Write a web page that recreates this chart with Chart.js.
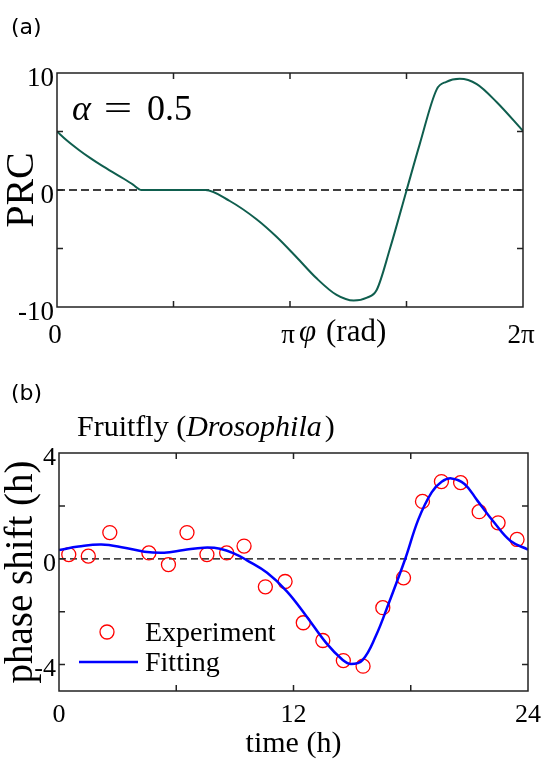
<!DOCTYPE html>
<html>
<head>
<meta charset="utf-8">
<script src="https://cdn.jsdelivr.net/npm/chart.js@4.4.1/dist/chart.umd.min.js"></script>
<style>
    html, body { margin: 0; padding: 0; background: #fff; }
    body { width: 550px; height: 759px; position: relative; overflow: hidden; }
    canvas { position: absolute; left: 0; }
    #prc { top: 0; }
    #fly { top: 380px; }
</style>
</head>
<body>
<canvas id="prc" width="550" height="380"></canvas>
<canvas id="fly" width="550" height="379"></canvas>
<script>
// (a) phase response curve, alpha = 0.5
const prcPhase = [0, 0.13, 0.30, 0.45, 0.60, 0.75, 0.90, 1.02, 1.14, 1.60, 2.00, 2.33, 2.69, 2.96, 3.23, 3.50, 3.77, 4.00, 4.18, 4.31, 4.49, 4.71, 4.89, 5.12, 5.25, 5.43, 5.66, 5.93, 6.283];
const prcValue = [5.0, 4.25, 3.4, 2.72, 2.1, 1.52, 0.96, 0.48, 0, 0, 0, -0.94, -2.5, -4.0, -5.75, -7.55, -8.97, -9.45, -9.2, -8.55, -5.0, -0.1, 3.9, 8.6, 9.25, 9.5, 9.05, 7.5, 5.05];
const phaseTicks = [0, Math.PI / 2, Math.PI, 3 * Math.PI / 2, 2 * Math.PI];
const phaseTickLabels = ["0", "", "π", "", "2π"];
const prcTicks = [-10, -5, 0, 5, 10];
const prcTickLabels = ["-10", "", "0", "", "10"];

// (b) fruitfly data and fit
const expTime = [0.5, 1.5, 2.6, 4.6, 5.6, 6.55, 7.57, 8.58, 9.47, 10.56, 11.57, 12.5, 13.5, 14.55, 15.56, 16.57, 17.63, 18.6, 19.57, 20.55, 21.5, 22.47, 23.44];
const expShift = [0.16, 0.1, 0.99, 0.22, -0.22, 0.99, 0.16, 0.22, 0.48, -1.06, -0.86, -2.42, -3.09, -3.85, -4.06, -1.85, -0.72, 2.17, 2.92, 2.88, 1.78, 1.36, 0.73];
const fitTime = [0, 1.0, 2.17, 3.35, 4.37, 5.38, 6.39, 7.4, 8.24, 9.08, 9.6, 10.65, 11.66, 12.67, 13.68, 14.52, 14.94, 15.53, 16.2, 16.88, 17.72, 18.39, 19.07, 19.58, 20.08, 20.75, 21.42, 22.27, 23.11, 24];
const fitShift = [0.33, 0.46, 0.54, 0.42, 0.27, 0.23, 0.33, 0.42, 0.38, 0.16, -0.05, -0.53, -1.23, -2.18, -3.19, -3.83, -3.98, -3.83, -2.94, -1.67, 0, 1.49, 2.51, 2.91, 3.04, 2.83, 2.19, 1.37, 0.67, 0.35];
const timeTicks = [0, 6, 12, 18, 24];
const timeTickLabels = ["0", "", "12", "", "24"];
const shiftTicks = [-4, -2, 0, 2, 4];
const shiftTickLabels = ["-4", "", "0", "", "4"];

const SERIF = '"Liberation Serif", "DejaVu Serif", serif';

const toPoints = (xs, ys) => xs.map((x, i) => ({ x: x, y: ys[i] }));

// frame + inward tick marks on all four sides
const frameTicks = {
    id: 'frameTicks',
    afterDatasetsDraw(chart) {
        const { ctx, chartArea: a, scales: { x, y } } = chart;
        const len = 6;
        ctx.save();
        ctx.strokeStyle = '#222';
        ctx.lineWidth = 1.5;
        ctx.beginPath();
        x.ticks.forEach(t => {
            const px = x.getPixelForValue(t.value);
            if (px <= a.left + 1 || px >= a.right - 1) return;
            ctx.moveTo(px, a.bottom); ctx.lineTo(px, a.bottom - len);
            ctx.moveTo(px, a.top); ctx.lineTo(px, a.top + len);
        });
        y.ticks.forEach(t => {
            const py = y.getPixelForValue(t.value);
            if (py <= a.top + 1 || py >= a.bottom - 1) return;
            ctx.moveTo(a.left, py); ctx.lineTo(a.left + len, py);
            ctx.moveTo(a.right, py); ctx.lineTo(a.right - len, py);
        });
        ctx.stroke();
        ctx.strokeRect(a.left, a.top, a.width, a.height);
        ctx.restore();
    }
};

function fixedTicks(values) {
    return scale => { scale.ticks = values.map(v => ({ value: v })); };
}

// ---------- panel (a) ----------
const prcText = {
    id: 'prcText',
    afterDraw(chart) {
        const { ctx, chartArea: a, scales: { x } } = chart;
        ctx.save();
        ctx.fillStyle = '#000';
        ctx.textBaseline = 'middle';
        ctx.font = '22px "DejaVu Sans"';
        ctx.fillText('(a)', 11, 28);

        ctx.textBaseline = 'alphabetic';
        const base = a.top + 47;
        ctx.font = 'italic 36px ' + SERIF;
        ctx.fillText('α', a.left + 15, base);
        ctx.font = '36px ' + SERIF;
        ctx.save();
        ctx.translate(a.left + 61, base);
        ctx.scale(1.4, 1);
        ctx.textAlign = 'center';
        ctx.fillText('=', 0, 0);
        ctx.restore();
        ctx.fillText('0.5', a.left + 90, base);

        const px = x.getPixelForValue(Math.PI);
        ctx.font = 'italic 31px ' + SERIF;
        ctx.fillText('φ', px + 9, a.bottom + 34);
        ctx.font = '31px ' + SERIF;
        ctx.fillText('(rad)', px + 36, a.bottom + 34);
        ctx.restore();
    }
};

new Chart(document.getElementById('prc').getContext('2d'), {
    type: 'scatter',
    data: {
        datasets: [{
            data: toPoints(prcPhase, prcValue),
            showLine: true,
            borderColor: '#0f5e4e',
            borderWidth: 2,
            pointRadius: 0,
            cubicInterpolationMode: 'monotone'
        }, {
            data: [{ x: 0, y: 0 }, { x: 2 * Math.PI, y: 0 }],
            showLine: true,
            borderColor: '#000',
            borderWidth: 1.3,
            borderDash: [8, 4],
            pointRadius: 0
        }]
    },
    options: {
        responsive: false,
        animation: false,
        layout: { padding: { top: 73, right: 27, left: 0, bottom: 0 } },
        plugins: { legend: { display: false }, tooltip: { enabled: false } },
        scales: {
            x: {
                type: 'linear',
                min: 0,
                max: 2 * Math.PI,
                afterBuildTicks: fixedTicks(phaseTicks),
                afterFit: s => { s.height = 73; },
                grid: { display: false, drawTicks: false },
                border: { display: false },
                ticks: {
                    autoSkip: false,
                    maxRotation: 0,
                    padding: 13,
                    labelOffset: -2,
                    color: '#000',
                    font: { family: SERIF, size: 27 },
                    callback: (v, i) => phaseTickLabels[i]
                }
            },
            y: {
                min: -10,
                max: 10,
                afterBuildTicks: fixedTicks(prcTicks),
                afterFit: s => { s.width = 57; },
                grid: { display: false, drawTicks: false },
                border: { display: false },
                ticks: {
                    autoSkip: false,
                    padding: 3,
                    labelOffset: 6,
                    color: '#000',
                    font: { family: SERIF, size: 27 },
                    callback: (v, i) => prcTickLabels[i]
                },
                title: {
                    display: true,
                    text: 'PRC',
                    color: '#000',
                    padding: { top: 2, bottom: 0 },
                    font: { family: SERIF, size: 40, lineHeight: 1 }
                }
            }
        }
    },
    plugins: [frameTicks, prcText]
});

// ---------- panel (b) ----------
const flyText = {
    id: 'flyText',
    afterDraw(chart) {
        const { ctx, chartArea: a } = chart;
        ctx.save();
        ctx.fillStyle = '#000';
        ctx.textBaseline = 'middle';
        ctx.font = '22px "DejaVu Sans"';
        ctx.fillText('(b)', 11, 14);

        // title with italic species name
        ctx.textBaseline = 'alphabetic';
        let tx = a.left + 18;
        const ty = a.top - 17;
        const parts = [['Fruitfly (', ''], ['Drosophila', 'italic '], [')', '']];
        parts.forEach(([s, style]) => {
            ctx.font = style + '30px ' + SERIF;
            ctx.fillText(s, tx, ty);
            tx += ctx.measureText(s).width + (style ? 3 : 0);
        });

        // legend
        ctx.strokeStyle = '#ff0000';
        ctx.lineWidth = 1.3;
        ctx.beginPath();
        ctx.arc(a.left + 48, a.bottom - 59, 7, 0, 2 * Math.PI);
        ctx.stroke();
        ctx.strokeStyle = '#0000ff';
        ctx.lineWidth = 2.5;
        ctx.beginPath();
        ctx.moveTo(a.left + 20, a.bottom - 29);
        ctx.lineTo(a.left + 79, a.bottom - 29);
        ctx.stroke();
        ctx.font = '28px ' + SERIF;
        ctx.textBaseline = 'middle';
        ctx.fillText('Experiment', a.left + 86, a.bottom - 57);
        ctx.fillText('Fitting', a.left + 86, a.bottom - 27);
        ctx.restore();
    }
};

new Chart(document.getElementById('fly').getContext('2d'), {
    type: 'scatter',
    data: {
        datasets: [{
            label: 'Fitting',
            data: toPoints(fitTime, fitShift),
            showLine: true,
            borderColor: '#0000ff',
            borderWidth: 2.5,
            pointRadius: 0,
            tension: 0.4
        }, {
            label: 'Experiment',
            data: toPoints(expTime, expShift),
            showLine: false,
            borderColor: '#ff0000',
            backgroundColor: 'rgba(0,0,0,0)',
            borderWidth: 1.3,
            pointRadius: 7,
            pointStyle: 'circle'
        }, {
            data: [{ x: 0, y: 0 }, { x: 24, y: 0 }],
            showLine: true,
            borderColor: '#000',
            borderWidth: 1.3,
            borderDash: [7, 4],
            pointRadius: 0
        }]
    },
    options: {
        responsive: false,
        animation: false,
        layout: { padding: { top: 73, right: 16, left: 0, bottom: 0 } },
        plugins: { legend: { display: false }, tooltip: { enabled: false } },
        scales: {
            x: {
                type: 'linear',
                min: 0,
                max: 24,
                afterBuildTicks: fixedTicks(timeTicks),
                afterFit: s => { s.height = 68; },
                grid: { display: false, drawTicks: false },
                border: { display: false },
                ticks: {
                    autoSkip: false,
                    maxRotation: 0,
                    padding: 9,
                    color: '#000',
                    font: { family: SERIF, size: 26 },
                    callback: (v, i) => timeTickLabels[i]
                },
                title: {
                    display: true,
                    text: 'time (h)',
                    color: '#000',
                    padding: { top: 0, bottom: 0 },
                    font: { family: SERIF, size: 30, lineHeight: 1 }
                }
            },
            y: {
                min: -5,
                max: 4,
                afterBuildTicks: fixedTicks(shiftTicks),
                afterFit: s => { s.width = 59; },
                grid: { display: false, drawTicks: false },
                border: { display: false },
                ticks: {
                    autoSkip: false,
                    padding: 3,
                    labelOffset: 5,
                    color: '#000',
                    font: { family: SERIF, size: 26 },
                    callback: (v, i) => shiftTickLabels[i]
                },
                title: {
                    display: true,
                    text: 'phase shift (h)',
                    color: '#000',
                    padding: { top: 2, bottom: 0 },
                    font: { family: SERIF, size: 39, lineHeight: 1 }
                }
            }
        }
    },
    plugins: [frameTicks, flyText]
});
</script>
</body>
</html>
